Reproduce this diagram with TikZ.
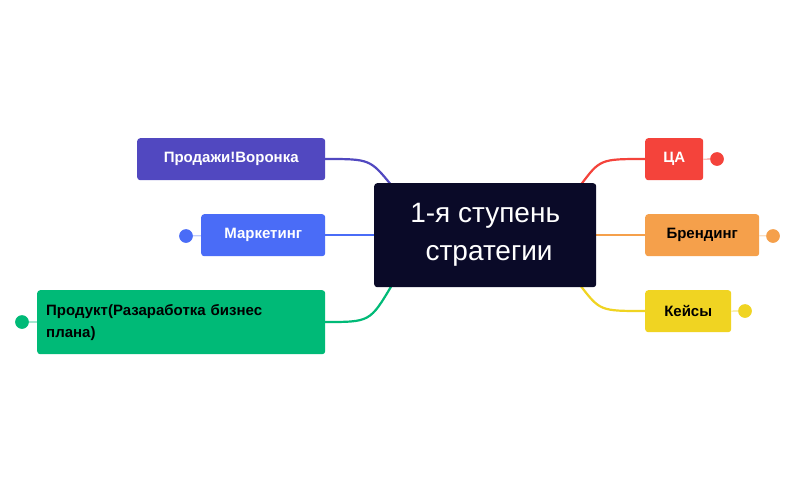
\documentclass[tikz,border=0pt]{standalone}
\usepackage{fontspec}
\setmainfont{Liberation Sans}
\begin{document}
\begin{tikzpicture}[x=1pt,y=-1pt,
 box/.style={rounded corners=3pt,inner sep=0pt,anchor=north west,font=\fontsize{15}{22}\selectfont\bfseries},
 conn/.style={line width=2.2pt},
 cnt/.style={circle,draw,fill=white,line width=0.6pt,minimum size=13pt,inner sep=0pt,font=\fontsize{7.5}{7.5}\selectfont}]
\definecolor{cpur}{HTML}{5148C0}
\definecolor{cblue}{HTML}{4A6CF7}
\definecolor{cgreen}{HTML}{00BA77}
\definecolor{cred}{HTML}{F4433B}
\definecolor{corange}{HTML}{F5A04B}
\definecolor{cyellow}{HTML}{F0D422}
\definecolor{cnavy}{HTML}{0A0A28}
\useasboundingbox (0,0) rectangle (797,493);
\fill[white] (0,0) rectangle (797,493);
% connectors (drawn first)
\coordinate (pa) at (325,159); \coordinate (pc) at (392,186);
\draw[conn,cpur] (pa) .. controls (370,159) .. (pc);
\coordinate (ma) at (325,235); \coordinate (mc) at (376,235);
\draw[conn,cblue] (ma) -- (mc);
\coordinate (ga) at (325,322); \coordinate (gc) at (392,285);
\draw[conn,cgreen] (ga) .. controls (370,322) .. (gc);
\coordinate (ra) at (645,159); \coordinate (rc) at (580,186);
\draw[conn,cred] (ra) .. controls (600,159) .. (rc);
\coordinate (oa) at (645,235); \coordinate (oc) at (594,235);
\draw[conn,corange] (oa) -- (oc);
\coordinate (ya) at (645,311); \coordinate (yc) at (580,285);
\draw[conn,cyellow] (ya) .. controls (600,311) .. (yc);
% center
\node[box,fill=cnavy,text=white,minimum width=222pt,minimum height=104pt,align=center,font=\fontsize{28}{38}\selectfont] (c) at (374,183) {1-я ступень\\\ стратегии};
% left
\node[box,fill=cpur,text=white,minimum width=188pt,minimum height=42pt,align=center] (p) at (137,138) {Продажи!Воронка};
\node[box,fill=cblue,text=white,minimum width=124pt,minimum height=42pt,align=center] (m) at (201,214) {Маркетинг};
\node[box,fill=cgreen,text=black,minimum width=288pt,minimum height=64pt,text width=270pt,align=left,inner xsep=9pt] (g) at (37,290) {Продукт(Разаработка бизнес\\плана)};
% right
\node[box,fill=cred,text=white,minimum width=58pt,minimum height=42pt,align=center] (r) at (645,138) {ЦА};
\node[box,fill=corange,text=black,minimum width=114pt,minimum height=42pt,align=center] (o) at (645,214) {Брендинг};
\node[box,fill=cyellow,text=black,minimum width=86pt,minimum height=42pt,align=center] (y) at (645,290) {Кейсы};
% counters
\node[cnt,cblue,text=cblue] (n2) at (186,236) {2};
\draw[cblue,line width=0.6pt] (n2) -- (m);
\node[cnt,cgreen,text=cgreen] (n11) at (22,322) {11};
\draw[cgreen,line width=0.6pt] (n11) -- (g);
\node[cnt,cred,text=cred] (n4a) at (717,159) {4};
\draw[cred,line width=0.6pt] (r) -- (n4a);
\node[cnt,corange,text=corange] (n4b) at (773,236) {4};
\draw[corange,line width=0.6pt] (o) -- (n4b);
\node[cnt,cyellow,text=cyellow] (n10) at (745,311) {10};
\draw[cyellow,line width=0.6pt] (y) -- (n10);
\end{tikzpicture}
\end{document}
